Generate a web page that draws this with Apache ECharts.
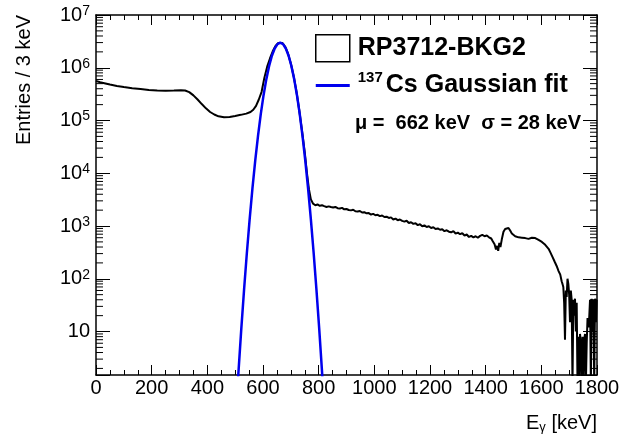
<!DOCTYPE html>
<html>
<head>
<meta charset="utf-8">
<script src="https://cdn.jsdelivr.net/npm/echarts@6/dist/echarts.min.js"></script>
<style>
html, body { margin: 0; padding: 0; background: #fff; }
#main { width: 637px; height: 443px; }
</style>
</head>
<body>
<div id="main"></div>
<script>
// spectrum, 3 keV bins
const histName = "RP3712-BKG2";
const fitName = "137Cs Gaussian fit";

const histEnergy = [
    0, 15, 30, 50, 75, 100, 130, 160, 190, 220, 250, 280, 305, 320, 335, 350, 365, 380, 395, 410,
    425, 440, 460, 480, 500, 520, 540, 555, 565, 575, 585, 595,
    605, 615, 625, 635, 645, 655, 662, 670, 680, 690, 700, 710, 720, 730, 740, 750, 758, 765, 772,
    780, 788, 796, 804, 812, 820, 828, 836, 844, 852, 860, 868, 876, 884, 892, 900, 908, 916, 924, 932,
    940, 948, 956, 964, 972, 980, 988, 996, 1004, 1012, 1020, 1028, 1036, 1044, 1052, 1060, 1068, 1076,
    1084, 1092, 1100, 1108, 1116, 1124, 1132, 1140, 1148, 1156, 1164, 1172, 1180, 1188, 1196, 1204,
    1212, 1220, 1228, 1236, 1244, 1252, 1260, 1268, 1276, 1284, 1292, 1300, 1308, 1316, 1324, 1332,
    1340, 1348, 1356, 1364, 1372, 1380, 1388, 1396, 1404, 1412, 1420,
    1425, 1432, 1437, 1441, 1445, 1449, 1453, 1458, 1464, 1470, 1476, 1482, 1488, 1494, 1500,
    1506, 1512, 1518, 1524, 1530, 1536, 1542, 1548, 1554, 1560, 1566, 1572, 1578, 1584, 1590, 1596,
    1602, 1608, 1614, 1620, 1626, 1632, 1640, 1648, 1655, 1662, 1668, 1673,
    1676, 1679, 1682, 1685, 1688, 1691, 1694, 1697, 1700, 1703, 1706, 1709, 1712, 1715, 1718, 1721,
    1724, 1727, 1730, 1733, 1736, 1739, 1742, 1745, 1748, 1751, 1754, 1757, 1760, 1763, 1766, 1769,
    1772, 1775, 1778, 1781, 1784, 1787, 1790, 1793, 1796, 1799
];
const histCounts = [
    5.6e5, 5.3e5, 5.1e5, 4.8e5, 4.5e5, 4.3e5, 4.1e5, 3.95e5, 3.8e5, 3.7e5, 3.68e5, 3.7e5, 3.75e5, 3.7e5, 3.45e5, 3.0e5, 2.5e5, 2.05e5, 1.7e5, 1.45e5,
    1.3e5, 1.2e5, 1.15e5, 1.17e5, 1.22e5, 1.28e5, 1.35e5, 1.45e5, 1.6e5, 1.9e5, 2.5e5, 3.5e5,
    6.5e5, 1.05e6, 1.5e6, 2.05e6, 2.6e6, 2.95e6, 3.05e6, 2.95e6, 2.5e6, 1.85e6, 1.2e6, 7.0e5, 3.6e5, 1.6e5, 6.5e4, 2.5e4, 1.0e4, 5.0e3, 3.2e3,
    2650, 2480, 2560, 2420, 2470, 2380, 2300, 2360, 2290, 2240, 2300, 2180, 2150, 2210, 2070, 2100, 2010, 1980, 2040, 1900,
    1880, 1930, 1800, 1830, 1740, 1760, 1650, 1700, 1600, 1630, 1540, 1580, 1480, 1500, 1420, 1460, 1330, 1380,
    1290, 1330, 1250, 1210, 1260, 1140, 1180, 1100, 1130, 1040, 1080, 990, 1030, 960, 990, 920,
    950, 880, 900, 850, 870, 800, 830, 780, 760, 800, 720, 750, 700, 730, 660, 690,
    620, 650, 610, 640, 600, 650, 680, 640, 660, 610, 580,
    520, 450, 360, 420, 340, 480, 400, 560, 780, 880, 960, 920, 820, 720, 680,
    640, 660, 610, 630, 600, 615, 590, 600, 570, 590, 600, 580, 590, 560, 545, 520,
    500, 480, 440, 410, 370, 320, 260, 210, 175, 140, 120, 90,
    80, 70, 35, 7, 60, 45, 100, 80, 50, 15, 60, 40, 1, 40, 20, 42,
    10, 35, 1, 8, 1, 9, 6, 1, 8, 1, 7, 9, 1, 6, 18, 12,
    18, 40, 1, 42, 10, 40, 1, 42, 15, 40
];

// Gaussian fit curve (mu = 662 keV, sigma = 28 keV)
const fitEnergy = [
    508, 512, 522, 532, 542, 552, 562, 572, 582, 592, 602, 612, 622, 632, 642, 652, 662,
    672, 682, 692, 702, 712, 722, 732, 742, 752, 762, 772, 782, 792, 802, 812, 816
];
const fitCounts = [
    0.81, 1.76, 11.2, 62.5, 308, 1340, 5100, 1.71e4, 5.06e4, 1.32e5, 3.02e5, 6.09e5, 1.08e6, 1.69e6, 2.32e6, 2.81e6, 3.0e6,
    2.81e6, 2.32e6, 1.69e6, 1.08e6, 6.09e5, 3.02e5, 1.32e5, 5.06e4, 1.71e4, 5100, 1340, 308, 62.5, 11.2, 1.76, 0.81
];

const xMin = 0, xMax = 1800, xStep = 200;
const yMin = 1.5, yMax = 1e7;

const font = "Liberation Sans, Arial, Helvetica, sans-serif";

// minor ticks of the log axis: 2..9 x 10^n
const yMinorTicks = [];
for (let p = 0; p <= 6; p++) {
    for (let k = 2; k <= 9; k++) {
        yMinorTicks.push(k * Math.pow(10, p));
    }
}

function decadeLabel(v) {
    const p = Math.round(Math.log10(v));
    if (Math.abs(v / Math.pow(10, p) - 1) > 1e-6) return "";
    if (p === 1) return "{b|10}";
    return "{b|10}{s|" + p + "}";
}

let dom = document.getElementById("main");
let myChart = echarts.init(dom, null, { renderer: "canvas" });

const frameLine = { show: true, onZero: false, lineStyle: { color: "#000", width: 1.5 } };

const xAxisBase = {
    type: "value",
    min: xMin,
    max: xMax,
    interval: xStep,
    axisLine: frameLine,
    axisTick: { show: true, inside: true, length: 10, lineStyle: { color: "#000", width: 1 } },
    minorTick: { show: true, splitNumber: 4, length: 5, lineStyle: { color: "#000", width: 1 } },
    splitLine: { show: false },
    minorSplitLine: { show: false },
};

const yAxisBase = {
    type: "log",
    logBase: 10,
    min: yMin,
    max: yMax,
    splitNumber: 7,
    axisLine: frameLine,
    axisTick: { show: true, inside: true, length: 14, lineStyle: { color: "#000", width: 1 } },
    splitLine: { show: false },
};

let option = {
    animation: false,
    grid: { left: 96, right: 40, top: 15, bottom: 68, containLabel: false, outerBoundsMode: "none" },
    xAxis: [
        Object.assign({}, xAxisBase, {
            position: "bottom",
            axisLabel: {
                margin: 3,
                fontSize: 20,
                color: "#000",
                fontFamily: font,
                formatter: (v) => String(v),
            },
        }),
        Object.assign({}, xAxisBase, {
            position: "top",
            axisLabel: { show: false },
        }),
    ],
    yAxis: [
        Object.assign({}, yAxisBase, {
            position: "left",
            axisLabel: {
                margin: 6,
                color: "#000",
                formatter: decadeLabel,
                rich: {
                    b: { fontSize: 20, lineHeight: 22, fontFamily: font, color: "#000" },
                    s: { fontSize: 14, lineHeight: 14, verticalAlign: "top", fontFamily: font, color: "#000" },
                },
            },
        }),
        Object.assign({}, yAxisBase, {
            position: "right",
            axisLabel: { show: false },
        }),
    ],
    legend: {
        orient: "vertical",
        left: 315,
        top: 34,
        padding: 0,
        itemWidth: 34,
        itemHeight: 27,
        itemGap: 8,
        selectedMode: false,
        data: [
            { name: histName, icon: "rect", itemStyle: { color: "rgba(0,0,0,0)", borderColor: "#000", borderWidth: 1.5 } },
            { name: fitName, icon: "path://M0,0H34V3H0Z", itemStyle: { color: "#0000ee", borderWidth: 0 } },
        ],
        formatter: function (name) {
            if (name === fitName) return "{s|137}{b|Cs Gaussian fit}";
            return "{b|" + name + "}";
        },
        textStyle: {
            color: "#000",
            fontSize: 25,
            fontWeight: "bold",
            fontFamily: font,
            rich: {
                b: { fontSize: 25, fontWeight: "bold", lineHeight: 30, fontFamily: font, color: "#000", padding: [0, 0, 0, 3] },
                s: { fontSize: 15, fontWeight: "bold", lineHeight: 15, verticalAlign: "top", fontFamily: font, color: "#000", padding: [0, 0, 0, 3] },
            },
        },
    },
    graphic: [
        {
            type: "text",
            x: 14.5,
            y: 15,
            rotation: Math.PI / 2,
            style: { text: "Entries / 3 keV", font: "20px " + font, fill: "#000", align: "right", verticalAlign: "top" },
        },
        {
            type: "text",
            x: 597,
            y: 412,
            style: {
                text: "{a|E}{g|γ}{a| [keV]}",
                align: "right",
                verticalAlign: "top",
                rich: {
                    a: { fontSize: 20, lineHeight: 22, fontFamily: font, fill: "#000" },
                    g: { fontSize: 13, lineHeight: 12, verticalAlign: "bottom", fontFamily: font, fill: "#000" },
                },
            },
        },
        {
            type: "text",
            x: 355,
            y: 113,
            style: { text: "μ =  662 keV  σ = 28 keV", font: "bold 20px " + font, fill: "#000", align: "left", verticalAlign: "top" },
        },
    ],
    series: [
        {
            name: histName,
            type: "line",
            data: histEnergy.map((e, i) => [e, histCounts[i]]),
            showSymbol: false,
            symbol: "none",
            clip: true,
            color: "#000",
            lineStyle: { color: "#000", width: 2 },
            z: 3,
        },
        {
            name: fitName,
            type: "line",
            data: fitEnergy.map((e, i) => [e, fitCounts[i]]),
            showSymbol: false,
            symbol: "none",
            smooth: false,
            clip: true,
            color: "#0000ee",
            lineStyle: { color: "#0000ee", width: 2.5 },
            z: 4,
        },
        {
            // log-axis minor ticks on both sides of the frame
            type: "custom",
            coordinateSystem: "cartesian2d",
            silent: true,
            clip: true,
            data: yMinorTicks.map((v) => [xMin, v]),
            renderItem: function (params, api) {
                const v = api.value(1);
                if (v < yMin || v > yMax) return null;
                const l = api.coord([xMin, v]);
                const r = api.coord([xMax, v]);
                return {
                    type: "group",
                    children: [
                        { type: "line", shape: { x1: l[0], y1: l[1], x2: l[0] + 7, y2: l[1] }, style: { stroke: "#000", lineWidth: 1 } },
                        { type: "line", shape: { x1: r[0] - 7, y1: r[1], x2: r[0], y2: r[1] }, style: { stroke: "#000", lineWidth: 1 } },
                    ],
                };
            },
            z: 5,
        },
    ],
};

if (option && typeof option === "object") {
    myChart.setOption(option);
}

window.addEventListener("resize", myChart.resize);
</script>
</body>
</html>
